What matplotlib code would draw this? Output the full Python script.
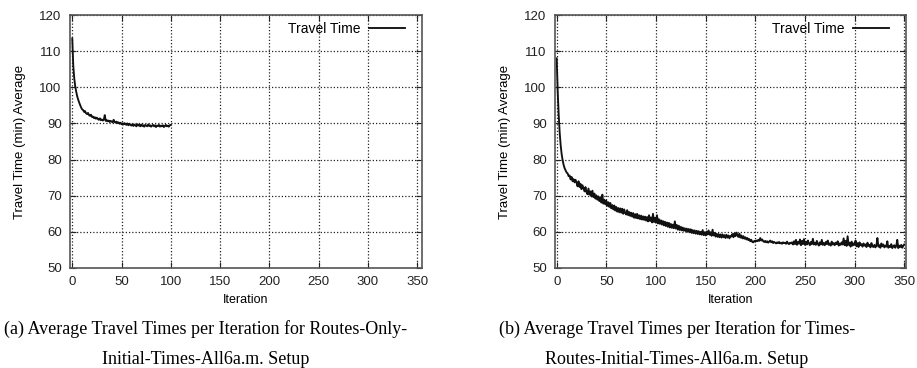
import matplotlib
matplotlib.use("Agg")
import matplotlib.pyplot as plt

# Average travel time per iteration, setup (a): routes only, 0..100
routes_only = [
    113.5, 106.0, 102.5, 100.3, 98.8, 97.5, 96.6, 95.8, 95.1, 94.4,
    93.9, 93.7, 93.2, 93.4, 92.8, 92.6, 92.9, 92.3, 92.1, 92.4,
    91.8, 91.9, 91.5, 91.7, 91.3, 91.6, 91.2, 91.0, 91.4, 90.9,
    91.1, 90.8, 91.0, 92.3, 90.7, 90.9, 90.6, 90.8, 90.4, 90.7,
    90.5, 90.3, 91.0, 90.4, 90.2, 90.5, 90.1, 90.3, 89.9, 90.2,
    89.8, 90.0, 89.7, 90.1, 89.8, 89.6, 90.0, 89.5, 89.9, 89.6,
    89.4, 89.8, 89.3, 89.7, 89.5, 89.2, 89.8, 89.4, 89.6, 89.2,
    89.7, 89.3, 89.5, 89.1, 89.6, 89.4, 89.2, 89.7, 89.3, 89.5,
    89.1, 89.4, 89.6, 89.2, 89.5, 89.0, 89.4, 89.3, 89.6, 89.1,
    89.4, 89.2, 89.5, 89.0, 89.3, 89.6, 89.2, 89.4, 89.1, 89.5,
    89.6,
]

# Average travel time per iteration, setup (b): times and routes, 0..350
times_routes = [
    108.0, 99.0, 92.5, 87.5, 84.0, 81.5, 79.8, 78.5, 77.6, 77.0,
    76.4, 76.2, 75.4, 75.6, 74.5, 75.2, 74.0, 74.6, 73.7, 74.4,
    73.6, 72.6, 74.0, 72.4, 73.3, 71.8, 72.9, 72.0, 71.2, 72.4,
    71.0, 70.4, 72.0, 70.3, 71.2, 69.8, 71.4, 69.6, 70.6, 69.2,
    70.1, 68.9, 69.8, 68.5, 69.6, 68.1, 70.3, 67.8, 68.9, 67.6,
    68.6, 67.2, 68.2, 66.9, 68.0, 66.5, 67.4, 66.2, 67.3, 65.9,
    66.9, 65.6, 66.6, 65.4, 66.5, 65.3, 66.4, 65.0, 66.2, 65.2,
    64.8, 66.0, 64.6, 65.5, 64.4, 65.3, 64.2, 65.2, 63.9, 64.9,
    63.8, 65.0, 63.7, 64.6, 63.5, 64.5, 63.4, 64.3, 63.3, 64.2,
    63.1, 64.1, 62.9, 64.6, 63.0, 64.0, 62.6, 65.0, 62.7, 63.9,
    62.5, 64.6, 62.3, 63.5, 62.2, 63.2, 62.0, 63.0, 61.8, 62.8,
    61.6, 62.6, 61.4, 62.5, 61.2, 62.2, 61.1, 62.0, 61.0, 62.9,
    60.9, 61.9, 60.6, 61.7, 60.5, 61.4, 60.4, 61.2, 60.3, 61.0,
    60.2, 60.9, 60.0, 60.8, 59.9, 60.7, 59.7, 60.5, 59.6, 60.4,
    59.5, 60.3, 59.4, 60.2, 59.3, 60.0, 59.2, 60.5, 59.1, 59.9,
    59.0, 60.1, 59.3, 60.4, 59.2, 59.9, 58.9, 60.6, 59.0, 59.7,
    58.7, 59.5, 58.6, 59.4, 58.5, 59.3, 58.4, 59.3, 58.5, 59.1,
    58.3, 59.2, 58.4, 59.0, 58.2, 58.9, 58.7, 59.4, 58.5, 59.6,
    58.8, 59.8, 59.0, 58.6, 59.5, 58.4, 59.0, 58.2, 58.8, 58.1,
    58.5, 57.9, 58.3, 57.7, 58.0, 57.4, 57.8, 57.2, 57.1, 57.5,
    57.3, 57.6, 57.4, 57.8, 57.5, 58.3, 57.6, 57.9, 57.4, 57.2,
    57.5, 57.1, 57.4, 57.0, 57.3, 57.6, 57.1, 57.4, 56.9, 57.2,
    57.0, 56.8, 57.1, 56.9, 57.2, 56.8, 57.0, 56.7, 57.1, 56.9,
    57.0, 56.7, 57.3, 56.8, 56.6, 57.0, 56.8, 57.1, 56.5, 57.4,
    56.6, 57.8, 56.4, 57.2, 56.7, 57.9, 56.3, 57.5, 56.6, 58.0,
    56.4, 57.3, 56.5, 57.6, 56.8, 56.3, 57.2, 56.6, 58.1, 56.5,
    57.0, 56.4, 57.5, 56.7, 56.2, 57.1, 56.5, 57.8, 56.4, 56.9,
    56.3, 57.2, 56.6, 57.6, 56.4, 56.8, 56.2, 57.3, 56.5, 56.9,
    56.3, 57.0, 56.6, 57.4, 56.2, 56.8, 56.4, 57.1, 56.5, 58.2,
    56.3, 57.5, 56.1, 58.8, 56.4, 57.0, 55.9, 57.3, 56.2, 56.8,
    56.4, 57.6, 56.0, 56.9, 55.8, 57.1, 56.3, 56.6, 55.9, 56.8,
    56.2, 56.5, 55.8, 57.0, 56.1, 56.4, 55.7, 56.9, 56.0, 55.8,
    56.4, 55.7, 56.2, 58.3, 55.9, 56.3, 55.6, 56.8, 56.0, 56.5,
    55.7, 56.2, 55.9, 57.4, 55.6, 56.1, 55.8, 56.6, 55.5, 56.0,
    56.3, 55.6, 56.1, 57.8, 55.5, 56.2, 55.8, 56.4, 55.6, 56.1,
    56.5,
]

x_ticks = [0, 50, 100, 150, 200, 250, 300, 350]
y_ticks = [50, 60, 70, 80, 90, 100, 110, 120]
series_label = "Travel Time"
x_label = "Iteration"
y_label = "Travel Time (min) Average"
caption_a = "(a) Average Travel Times per Iteration for Routes-Only-\nInitial-Times-All6a.m. Setup"
caption_b = "(b) Average Travel Times per Iteration for Times-\nRoutes-Initial-Times-All6a.m. Setup"

sans = "Liberation Sans"
serif = "Liberation Serif"

fig = plt.figure(figsize=(9.17, 3.68), dpi=100)
W, H = 917, 368


def px_axes(x0, x1, y0, y1):
    return fig.add_axes([x0 / W, 1 - y1 / H, (x1 - x0) / W, (y1 - y0) / H])


def style(ax, xlim):
    ax.set_xlim(*xlim)
    ax.set_ylim(50, 120)
    ax.set_xticks(x_ticks)
    ax.set_yticks(y_ticks)
    ax.set_xticklabels([str(t) for t in x_ticks], fontname=sans, fontsize=9.5)
    ax.set_yticklabels([str(t) for t in y_ticks], fontname=sans, fontsize=9.5)
    ax.tick_params(direction="in", length=4, width=0.8, top=True, right=True,
                   pad=6, colors="#222222")
    ax.grid(True, color="#222222", linestyle=(0, (1, 1.6)), linewidth=0.9)
    for s in ax.spines.values():
        s.set_color("#555555")
        s.set_linewidth(1.2)
    ax.set_xlabel(x_label, fontname=sans, fontsize=9, labelpad=4)
    ax.set_ylabel(y_label, fontname=sans, fontsize=9.5, labelpad=10)
    width_px = ax.get_position().width * W
    height_px = ax.get_position().height * H
    ax.legend(loc="upper right", frameon=False, markerfirst=False,
              bbox_to_anchor=(1 - 7 / width_px, 1 + 3 / height_px),
              handlelength=2.6, handletextpad=0.6, borderaxespad=0.3,
              prop={"family": sans, "size": 10})


ax_a = px_axes(70, 422, 15, 268)
ax_a.plot(range(len(routes_only)), routes_only, color="#111111",
          linewidth=1.35, label=series_label)
style(ax_a, (-2.3, 355))

ax_b = px_axes(555, 906, 15, 268)
ax_b.plot(range(len(times_routes)), times_routes, color="#111111",
          linewidth=1.35, label=series_label)
style(ax_b, (-1.7, 351.8))

fig.text(206 / W, 1 - 344 / H, caption_a, ha="center", va="center",
         fontname=serif, fontsize=13.0, linespacing=2.0)
fig.text(677 / W, 1 - 344 / H, caption_b, ha="center", va="center",
         fontname=serif, fontsize=13.0, linespacing=2.0)

fig.savefig("out.png", dpi=100)
